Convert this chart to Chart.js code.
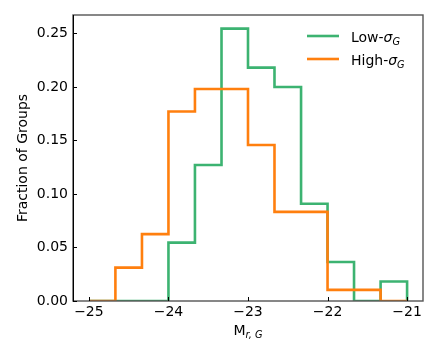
<!DOCTYPE html>
<html>
<head>
<meta charset="utf-8">
<script src="https://cdn.jsdelivr.net/npm/chart.js@4.4.1/dist/chart.umd.min.js"></script>
<style>
  html, body { margin: 0; padding: 0; background: #fff; }
  #chart { display: block; }
</style>
</head>
<body>
<canvas id="chart" width="440" height="360"></canvas>
<script>
// bin edges of the histogram (13 edges -> 12 bins)
const binEdges = [-25, -24.667, -24.333, -24, -23.667, -23.333, -23, -22.667, -22.333, -22, -21.667, -21.333, -21];
// fraction of groups per bin
const lowSigma = [0, 0, 0, 0.0545, 0.127, 0.2545, 0.218, 0.2, 0.0909, 0.0364, 0, 0.0182];
const highSigma = [0, 0.0312, 0.0625, 0.177, 0.198, 0.198, 0.1458, 0.0833, 0.0833, 0.0104, 0.0104, 0];
const xTicks = [-25, -24, -23, -22, -21];
const yTicks = [0, 0.05, 0.1, 0.15, 0.2, 0.25];

const GREEN = "#3cb371";
const ORANGE = "#ff7f0e";
const FONT = "'DejaVu Sans', sans-serif";

// step points: each bin value holds from its left edge to the next edge
const toSteps = (vals) => {
  const pts = vals.map((v, i) => ({ x: binEdges[i], y: v }));
  pts.push({ x: binEdges[binEdges.length - 1], y: 0 });
  return pts;
};

// draw text pieces with italics / subscripts
const drawRich = (ctx, parts, x, y, size) => {
  let cx = x;
  parts.forEach((p) => {
    const s = p.sub ? size * 0.7 : size;
    ctx.font = (p.italic ? "italic " : "") + s + "px " + FONT;
    ctx.fillText(p.t, cx, p.sub ? y + size * 0.22 : y);
    cx += ctx.measureText(p.t).width;
  });
  return cx - x;
};
const richWidth = (ctx, parts, size) => {
  let w = 0;
  parts.forEach((p) => {
    const s = p.sub ? size * 0.7 : size;
    ctx.font = (p.italic ? "italic " : "") + s + "px " + FONT;
    w += ctx.measureText(p.t).width;
  });
  return w;
};

const decor = {
  id: "decor",
  afterDraw(chart) {
    const { ctx, chartArea: a, scales } = chart;
    ctx.save();

    // spines
    ctx.strokeStyle = "#555";
    ctx.lineWidth = 1.4;
    ctx.strokeRect(a.left, a.top, a.right - a.left, a.bottom - a.top);
    ctx.strokeStyle = "#000";
    ctx.lineWidth = 1;
    ctx.beginPath();
    ctx.moveTo(Math.round(a.left) + 0.5, a.top);
    ctx.lineTo(Math.round(a.left) + 0.5, a.bottom);
    ctx.stroke();

    // inward ticks
    xTicks.forEach((v) => {
      const px = Math.round(scales.x.getPixelForValue(v)) + 0.5;
      ctx.beginPath();
      ctx.moveTo(px, a.bottom);
      ctx.lineTo(px, a.bottom - 4);
      ctx.stroke();
    });
    yTicks.forEach((v) => {
      const py = Math.round(scales.y.getPixelForValue(v)) + 0.5;
      ctx.beginPath();
      ctx.moveTo(a.left, py);
      ctx.lineTo(a.left + 4, py);
      ctx.stroke();
    });

    ctx.fillStyle = "#000";
    ctx.textBaseline = "alphabetic";
    ctx.textAlign = "left";

    // y title
    ctx.save();
    ctx.translate(27, (a.top + a.bottom) / 2);
    ctx.rotate(-Math.PI / 2);
    ctx.textAlign = "center";
    ctx.font = "14px " + FONT;
    ctx.fillText("Fraction of Groups", 0, 0);
    ctx.restore();

    // x title
    const xt = [{ t: "M" }, { t: "r, G", italic: true, sub: true }];
    const w = richWidth(ctx, xt, 14);
    drawRich(ctx, xt, (a.left + a.right) / 2 - w / 2, 335, 14);

    // legend
    const rows = [
      { color: GREEN, parts: [{ t: "Low-" }, { t: "σ", italic: true }, { t: "G", italic: true, sub: true }], y: 36 },
      { color: ORANGE, parts: [{ t: "High-" }, { t: "σ", italic: true }, { t: "G", italic: true, sub: true }], y: 59 },
    ];
    rows.forEach((r) => {
      ctx.strokeStyle = r.color;
      ctx.lineWidth = 2.6;
      ctx.beginPath();
      ctx.moveTo(307, r.y);
      ctx.lineTo(339, r.y);
      ctx.stroke();
      ctx.fillStyle = "#000";
      drawRich(ctx, r.parts, 351, r.y + 6, 14);
    });

    ctx.restore();
  },
};

new Chart(document.getElementById("chart").getContext("2d"), {
  type: "line",
  data: {
    datasets: [
      {
        label: "High-σG",
        data: toSteps(highSigma),
        borderColor: ORANGE,
        borderWidth: 2.6,
        stepped: "before",
        pointRadius: 0,
        fill: false,
        order: 0,
      },
      {
        label: "Low-σG",
        data: toSteps(lowSigma),
        borderColor: GREEN,
        borderWidth: 2.6,
        stepped: "before",
        pointRadius: 0,
        fill: false,
        order: 1,
      },
    ],
  },
  options: {
    responsive: false,
    animation: false,
    devicePixelRatio: 1,
    layout: { padding: { top: 15, right: 17, left: 0, bottom: 0 } },
    plugins: {
      legend: { display: false },
      tooltip: { enabled: false },
    },
    scales: {
      x: {
        type: "linear",
        min: -25.2,
        max: -20.8,
        grid: { display: false, drawTicks: false },
        border: { display: false },
        afterBuildTicks: (s) => { s.ticks = xTicks.map((v) => ({ value: v })); },
        afterFit: (s) => { s.height = 59; },
        ticks: {
          padding: 3,
          color: "#000",
          maxRotation: 0,
          autoSkip: false,
          font: { family: FONT, size: 14 },
          callback: (v) => String(v).replace("-", "\u2212"),
        },
      },
      y: {
        min: 0,
        max: 0.2672,
        grid: { display: false, drawTicks: false },
        border: { display: false },
        afterBuildTicks: (s) => { s.ticks = yTicks.map((v) => ({ value: v })); },
        afterFit: (s) => { s.width = 73; },
        ticks: {
          padding: 5,
          color: "#000",
          font: { family: FONT, size: 14 },
          callback: (v) => v.toFixed(2),
        },
      },
    },
  },
  plugins: [decor],
});
</script>
</body>
</html>
